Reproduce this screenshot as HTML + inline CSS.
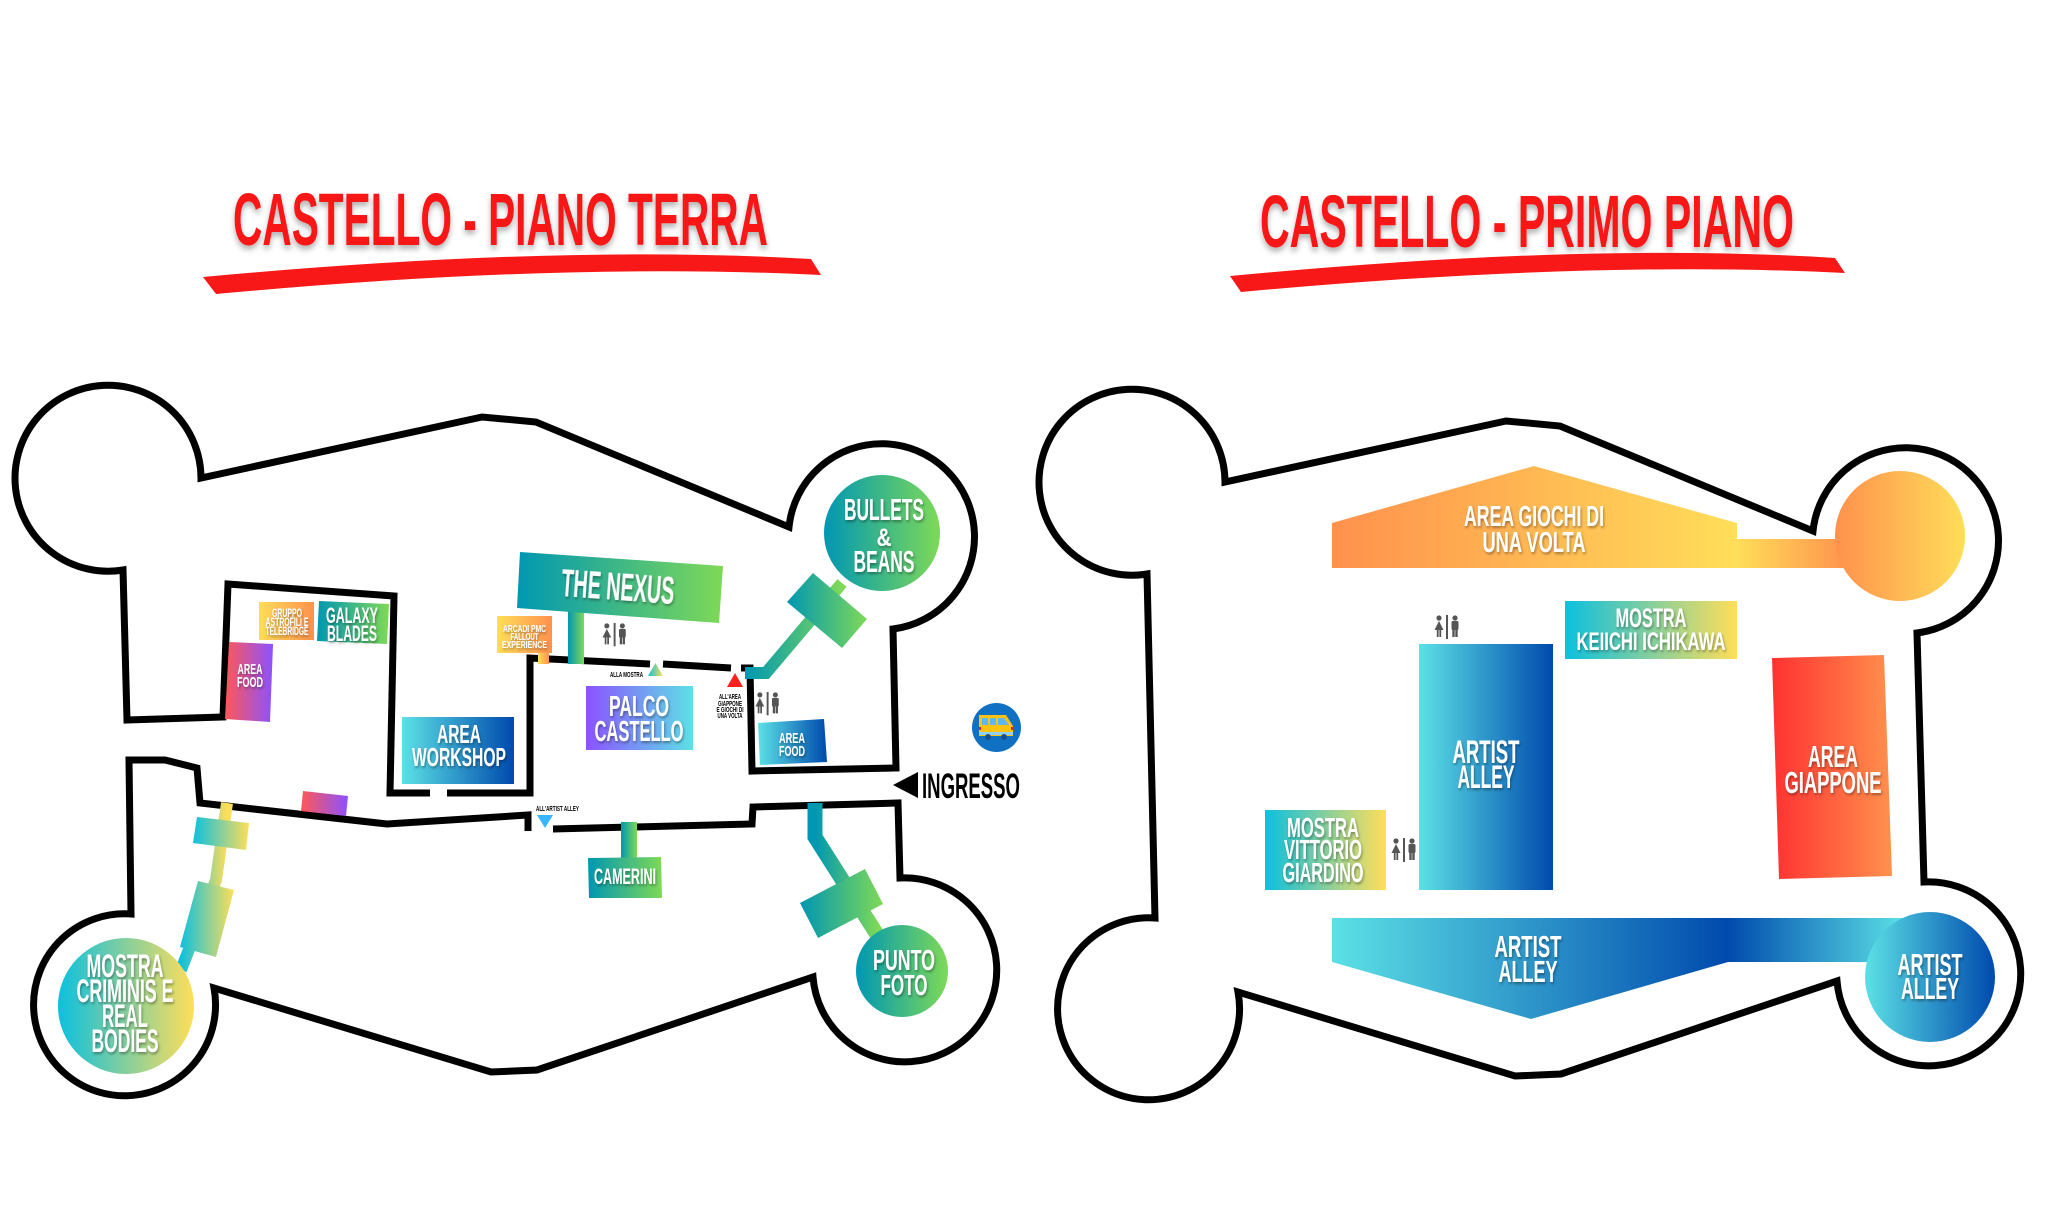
<!DOCTYPE html>
<html>
<head>
<meta charset="utf-8">
<style>
  html,body{margin:0;padding:0;background:#fff;}
  svg{display:block;}
  .w{fill:#fff;font-family:"Liberation Sans Narrow","Liberation Sans","DejaVu Sans Condensed",sans-serif;font-weight:700;filter:url(#ts);}
  .b{fill:#000;font-family:"Liberation Sans Narrow","Liberation Sans","DejaVu Sans Condensed",sans-serif;font-weight:700;}
  .t{fill:#f91818;font-family:"Liberation Sans Narrow","Liberation Sans","DejaVu Sans Condensed",sans-serif;font-weight:700;filter:url(#tsh);}
  .wall{fill:none;stroke:#000;stroke-width:7;stroke-linejoin:miter;stroke-linecap:butt;}
</style>
</head>
<body>
<svg width="2048" height="1230" viewBox="0 0 2048 1230" xmlns="http://www.w3.org/2000/svg">
<defs>
  <filter id="ts" x="-20%" y="-20%" width="140%" height="160%">
    <feDropShadow dx="1" dy="2" stdDeviation="1.2" flood-color="#000" flood-opacity="0.35"/>
  </filter>
  <filter id="tsh" x="-10%" y="-30%" width="120%" height="170%">
    <feDropShadow dx="0" dy="4" stdDeviation="3" flood-color="#000" flood-opacity="0.3"/>
  </filter>
  <linearGradient id="gTG" x1="0" y1="0" x2="1" y2="0"><stop offset="0" stop-color="#0097b2"/><stop offset="1" stop-color="#7ed957"/></linearGradient>
  <linearGradient id="gCB" x1="0" y1="0" x2="1" y2="0"><stop offset="0" stop-color="#5ce1e6"/><stop offset="1" stop-color="#004aad"/></linearGradient>
  <linearGradient id="gPC" x1="0" y1="0" x2="1" y2="0"><stop offset="0" stop-color="#8c52ff"/><stop offset="1" stop-color="#5ce1e6"/></linearGradient>
  <linearGradient id="gPP" x1="0" y1="0" x2="1" y2="0"><stop offset="0" stop-color="#ff5757"/><stop offset="1" stop-color="#8c52ff"/></linearGradient>
  <linearGradient id="gYO" x1="0" y1="0" x2="1" y2="0"><stop offset="0" stop-color="#ffde59"/><stop offset="1" stop-color="#ff914d"/></linearGradient>
  <linearGradient id="gCY" x1="0" y1="0" x2="1" y2="0"><stop offset="0" stop-color="#0cc0df"/><stop offset="1" stop-color="#ffde59"/></linearGradient>
  <linearGradient id="gRO" x1="0" y1="0" x2="1" y2="0"><stop offset="0" stop-color="#ff3131"/><stop offset="1" stop-color="#ff914d"/></linearGradient>
  <linearGradient id="gOY" x1="0" y1="0" x2="1" y2="0"><stop offset="0" stop-color="#ff914d"/><stop offset="1" stop-color="#ffde59"/></linearGradient>
  <linearGradient id="gGiochi" gradientUnits="userSpaceOnUse" x1="1332" y1="0" x2="1850" y2="0">
    <stop offset="0" stop-color="#ff914d"/><stop offset="0.78" stop-color="#ffde59"/><stop offset="1" stop-color="#ff914d"/>
  </linearGradient>
  <linearGradient id="gArtist" gradientUnits="userSpaceOnUse" x1="1332" y1="0" x2="1905" y2="0">
    <stop offset="0" stop-color="#5ce1e6"/><stop offset="0.69" stop-color="#004aad"/><stop offset="1" stop-color="#5ce1e6"/>
  </linearGradient>
  <g id="wc">
    <circle cx="5" cy="3" r="2.6" fill="#555"/>
    <polygon points="5,6 9.5,15 0.5,15" fill="#555"/>
    <rect x="2.8" y="14" width="1.8" height="8" fill="#555"/>
    <rect x="5.4" y="14" width="1.8" height="8" fill="#555"/>
    <rect x="12" y="0" width="2" height="24" fill="#555"/>
    <circle cx="21" cy="3" r="2.6" fill="#555"/>
    <rect x="17.5" y="6" width="7" height="9" rx="1.5" fill="#555"/>
    <rect x="18.3" y="13" width="2.4" height="9" fill="#555"/>
    <rect x="21.3" y="13" width="2.4" height="9" fill="#555"/>
  </g>
</defs>

<rect width="2048" height="1230" fill="#fff"/>

<!-- ================= TITLES ================= -->
<text class="t" x="500.5" y="245" font-size="74" textLength="535" lengthAdjust="spacingAndGlyphs" text-anchor="middle">CASTELLO - PIANO TERRA</text>
<path d="M203,277 Q560,244 811,259 L821,275 Q560,262 216,294 Z" fill="#f91818"/>

<text class="t" x="1527" y="247" font-size="74" textLength="534" lengthAdjust="spacingAndGlyphs" text-anchor="middle">CASTELLO - PRIMO PIANO</text>
<path d="M1230,276 Q1587,242 1835,258 L1845,273 Q1587,260 1241,292 Z" fill="#f91818"/>

<!-- ================= LEFT CASTLE WALLS ================= -->
<path class="wall" d="M430,793 L390,793 L394,596 L228,584 L223,717 L127,720 L123,570 A93,93 0 1 1 201,478 L482,417 L536,422 L789,527 A93,93 0 1 1 893,629 L896,768 L752,771 L750,668 L741,668"/>
<path class="wall" d="M447,793 L530,793 L530,658 L650,664 M663,664 L731,668"/>
<path class="wall" d="M528,831 L528,815 L387,824 L200,803 L197,768 L165,760 L129,760 L131,914 A91,91 0 1 0 214,988 L491,1072 L537,1070 L813,977 A92,92 0 1 0 900,878 L898,803 L753,807 L752,824 L553,829"/>

<!-- ================= LEFT CASTLE CONTENT ================= -->
<!-- Bullets & Beans -->
<path d="M842,583 L766,673 L745,673" fill="none" stroke="url(#gTG)" stroke-width="12" stroke-linejoin="miter"/>
<polygon points="813,573 867,619 842,648 787,602" fill="url(#gTG)"/>
<circle cx="882" cy="533" r="58" fill="url(#gTG)"/>
<text class="w" x="884" y="520" font-size="31" textLength="80" lengthAdjust="spacingAndGlyphs" text-anchor="middle">BULLETS</text>
<text class="w" x="884" y="546" font-size="25" textLength="15" lengthAdjust="spacingAndGlyphs" text-anchor="middle">&amp;</text>
<text class="w" x="884" y="572" font-size="31" textLength="61" lengthAdjust="spacingAndGlyphs" text-anchor="middle">BEANS</text>

<!-- The Nexus -->
<rect x="568" y="606" width="16" height="58" fill="url(#gTG)"/>
<polygon points="520,552 723,566 719,623 517,608" fill="url(#gTG)"/>
<text class="w" x="618" y="600" font-size="39" textLength="113" lengthAdjust="spacingAndGlyphs" text-anchor="middle" transform="rotate(4 618 586)">THE NEXUS</text>

<!-- Arcadi -->
<rect x="538" y="650" width="11" height="14" fill="url(#gYO)"/>
<rect x="497" y="616" width="55" height="37" fill="url(#gYO)"/>
<text class="w" x="524.5" y="632" font-size="10.5" textLength="43" lengthAdjust="spacingAndGlyphs" text-anchor="middle">ARCADI PMC</text>
<text class="w" x="524.5" y="640" font-size="10.5" textLength="28" lengthAdjust="spacingAndGlyphs" text-anchor="middle">FALLOUT</text>
<text class="w" x="524.5" y="648" font-size="10.5" textLength="45" lengthAdjust="spacingAndGlyphs" text-anchor="middle">EXPERIENCE</text>

<!-- Restroom near nexus -->
<use href="#wc" transform="translate(602,623) scale(0.97)"/>

<!-- Gruppo -->
<rect x="259" y="602" width="55" height="38" fill="url(#gYO)"/>
<text class="w" x="287" y="617" font-size="12" textLength="30" lengthAdjust="spacingAndGlyphs" text-anchor="middle">GRUPPO</text>
<text class="w" x="287" y="626" font-size="12" textLength="43" lengthAdjust="spacingAndGlyphs" text-anchor="middle">ASTROFILI E</text>
<text class="w" x="287" y="635" font-size="12" textLength="43" lengthAdjust="spacingAndGlyphs" text-anchor="middle">TELEBRIDGE</text>

<!-- Galaxy Blades -->
<polygon points="319,601 389,604 387,644 317,641" fill="url(#gTG)"/>
<text class="w" x="352" y="623" font-size="22" textLength="52" lengthAdjust="spacingAndGlyphs" text-anchor="middle">GALAXY</text>
<text class="w" x="352" y="641" font-size="22" textLength="50" lengthAdjust="spacingAndGlyphs" text-anchor="middle">BLADES</text>

<!-- Area food left -->
<polygon points="229,642 273,644 270,722 225,719" fill="url(#gPP)"/>
<text class="w" x="250" y="674" font-size="15" textLength="25" lengthAdjust="spacingAndGlyphs" text-anchor="middle">AREA</text>
<text class="w" x="250" y="687" font-size="15" textLength="26" lengthAdjust="spacingAndGlyphs" text-anchor="middle">FOOD</text>

<!-- small pink box -->
<polygon points="303,791 348,796 346,816 301,811" fill="url(#gPP)"/>

<!-- Workshop -->
<rect x="402" y="717" width="112" height="67" fill="url(#gCB)"/>
<text class="w" x="459" y="743" font-size="26" textLength="44" lengthAdjust="spacingAndGlyphs" text-anchor="middle">AREA</text>
<text class="w" x="459" y="766" font-size="26" textLength="94" lengthAdjust="spacingAndGlyphs" text-anchor="middle">WORKSHOP</text>

<!-- Palco -->
<rect x="586" y="686" width="107" height="64" fill="url(#gPC)"/>
<text class="w" x="639" y="716" font-size="29" textLength="60" lengthAdjust="spacingAndGlyphs" text-anchor="middle">PALCO</text>
<text class="w" x="639" y="741" font-size="29" textLength="89" lengthAdjust="spacingAndGlyphs" text-anchor="middle">CASTELLO</text>

<!-- Alla mostra -->
<text class="b" x="626.5" y="677" font-size="7" textLength="33" lengthAdjust="spacingAndGlyphs" text-anchor="middle">ALLA MOSTRA</text>
<polygon points="655.5,663 663,676 648,676" fill="url(#gCY)"/>

<!-- Red triangle + label -->
<polygon points="735,673 743,687 727,687" fill="#ff1f1f"/>
<text class="b" x="730" y="699" font-size="7.5" textLength="22" lengthAdjust="spacingAndGlyphs" text-anchor="middle">ALL'AREA</text>
<text class="b" x="730" y="706" font-size="7.5" textLength="24" lengthAdjust="spacingAndGlyphs" text-anchor="middle">GIAPPONE</text>
<text class="b" x="730" y="712" font-size="7.5" textLength="27" lengthAdjust="spacingAndGlyphs" text-anchor="middle">E GIOCHI DI</text>
<text class="b" x="730" y="718" font-size="7.5" textLength="25" lengthAdjust="spacingAndGlyphs" text-anchor="middle">UNA VOLTA</text>

<!-- Restroom right room -->
<use href="#wc" transform="translate(755,692) scale(0.97)"/>

<!-- Area food right -->
<polygon points="758,723 824,719 827,762 760,765" fill="url(#gCB)"/>
<text class="w" x="792" y="743" font-size="15" textLength="26" lengthAdjust="spacingAndGlyphs" text-anchor="middle">AREA</text>
<text class="w" x="792" y="756" font-size="15" textLength="26" lengthAdjust="spacingAndGlyphs" text-anchor="middle">FOOD</text>

<!-- Bus -->
<circle cx="996.5" cy="727.5" r="24.5" fill="#1070c2"/>
<path d="M979,715 L1006,715 L1013,726 L1013,736 L979,736 Z" fill="#ffc20e"/>
<rect x="982" y="718" width="6" height="7" fill="#5fb7f0"/>
<rect x="990" y="718" width="6" height="7" fill="#5fb7f0"/>
<path d="M998,718 L1004,718 L1009,725 L998,725 Z" fill="#5fb7f0"/>
<rect x="979" y="727" width="2" height="3" fill="#e02020"/>
<rect x="1011" y="727" width="2" height="3" fill="#e02020"/>
<rect x="979" y="732" width="34" height="3" fill="#8fd0f5"/>
<circle cx="988" cy="737" r="3" fill="#1a4f8a"/>
<circle cx="1004" cy="737" r="3" fill="#1a4f8a"/>

<!-- Ingresso -->
<polygon points="893,785 918,772 918,798" fill="#000"/>
<text class="b" x="971" y="798" font-size="35" textLength="98" lengthAdjust="spacingAndGlyphs" text-anchor="middle">INGRESSO</text>

<!-- All'artist alley -->
<text class="b" x="557.5" y="811" font-size="7" textLength="43" lengthAdjust="spacingAndGlyphs" text-anchor="middle">ALL'ARTIST ALLEY</text>
<polygon points="537,815 553,815 545,828" fill="#38b6ff"/>

<!-- Camerini -->
<rect x="621" y="822" width="16" height="37" fill="url(#gTG)"/>
<polygon points="588,858 661,857 662,898 589,898" fill="url(#gTG)"/>
<text class="w" x="625" y="884" font-size="22" textLength="62" lengthAdjust="spacingAndGlyphs" text-anchor="middle">CAMERINI</text>

<!-- Punto foto -->
<path d="M815,803 L815,837 L878,936" fill="none" stroke="url(#gTG)" stroke-width="15" stroke-linejoin="miter"/>
<polygon points="800,903 865,869 883,904 818,938" fill="url(#gTG)"/>
<circle cx="902" cy="971" r="46" fill="url(#gTG)"/>
<text class="w" x="904" y="970" font-size="29" textLength="62" lengthAdjust="spacingAndGlyphs" text-anchor="middle">PUNTO</text>
<text class="w" x="904" y="995" font-size="29" textLength="47" lengthAdjust="spacingAndGlyphs" text-anchor="middle">FOTO</text>

<!-- Mostra criminis -->
<path d="M227,803 L216,880 L181,970" fill="none" stroke="url(#gCY)" stroke-width="12" stroke-linejoin="miter"/>
<polygon points="197,817 249,823 246,850 193,843" fill="url(#gCY)"/>
<polygon points="198,881 234,890 216,957 180,947" fill="url(#gCY)"/>
<circle cx="126" cy="1006" r="68" fill="url(#gCY)"/>
<text class="w" x="125" y="977" font-size="32" textLength="77" lengthAdjust="spacingAndGlyphs" text-anchor="middle">MOSTRA</text>
<text class="w" x="125" y="1002" font-size="32" textLength="97" lengthAdjust="spacingAndGlyphs" text-anchor="middle">CRIMINIS E</text>
<text class="w" x="125" y="1027" font-size="32" textLength="46" lengthAdjust="spacingAndGlyphs" text-anchor="middle">REAL</text>
<text class="w" x="125" y="1052" font-size="32" textLength="67" lengthAdjust="spacingAndGlyphs" text-anchor="middle">BODIES</text>

<!-- ================= RIGHT CASTLE WALLS ================= -->
<path class="wall" transform="translate(1024,4)" d="M123,570 A93,93 0 1 1 201,478 L482,417 L536,422 L789,527 A93,93 0 1 1 893,629 L900,878 A92,92 0 1 1 813,977 L537,1070 L491,1072 L214,988 A91,91 0 1 1 131,914 Z"/>

<!-- ================= RIGHT CASTLE CONTENT ================= -->
<!-- Area giochi -->
<polygon points="1332,523 1534,466 1737,523 1737,539 1850,539 1850,568 1332,568" fill="url(#gGiochi)"/>
<circle cx="1900" cy="536" r="65" fill="url(#gOY)"/>
<text class="w" x="1534" y="526" font-size="29" textLength="140" lengthAdjust="spacingAndGlyphs" text-anchor="middle">AREA GIOCHI DI</text>
<text class="w" x="1534" y="552" font-size="29" textLength="103" lengthAdjust="spacingAndGlyphs" text-anchor="middle">UNA VOLTA</text>

<!-- Restroom top -->
<use href="#wc" transform="translate(1434,615) scale(1)"/>

<!-- Artist alley tall -->
<rect x="1419" y="644" width="134" height="246" fill="url(#gCB)"/>
<text class="w" x="1486" y="763" font-size="32" textLength="67" lengthAdjust="spacingAndGlyphs" text-anchor="middle">ARTIST</text>
<text class="w" x="1486" y="788" font-size="32" textLength="57" lengthAdjust="spacingAndGlyphs" text-anchor="middle">ALLEY</text>

<!-- Mostra Keiichi -->
<rect x="1565" y="601" width="172" height="58" fill="url(#gCY)"/>
<text class="w" x="1651" y="627" font-size="27" textLength="71" lengthAdjust="spacingAndGlyphs" text-anchor="middle">MOSTRA</text>
<text class="w" x="1651" y="650" font-size="25" textLength="149" lengthAdjust="spacingAndGlyphs" text-anchor="middle">KEIICHI ICHIKAWA</text>

<!-- Area Giappone -->
<polygon points="1772,658 1884,655 1892,876 1779,879" fill="url(#gRO)"/>
<text class="w" x="1833" y="767" font-size="31" textLength="50" lengthAdjust="spacingAndGlyphs" text-anchor="middle">AREA</text>
<text class="w" x="1833" y="793" font-size="31" textLength="97" lengthAdjust="spacingAndGlyphs" text-anchor="middle">GIAPPONE</text>

<!-- Mostra Vittorio -->
<rect x="1265" y="810" width="121" height="80" fill="url(#gCY)"/>
<text class="w" x="1323" y="837" font-size="28" textLength="72" lengthAdjust="spacingAndGlyphs" text-anchor="middle">MOSTRA</text>
<text class="w" x="1323" y="859" font-size="28" textLength="78" lengthAdjust="spacingAndGlyphs" text-anchor="middle">VITTORIO</text>
<text class="w" x="1323" y="882" font-size="28" textLength="81" lengthAdjust="spacingAndGlyphs" text-anchor="middle">GIARDINO</text>

<!-- Restroom bottom -->
<use href="#wc" transform="translate(1391,838) scale(1)"/>

<!-- Artist alley bottom -->
<polygon points="1332,918 1905,918 1905,962 1728,962 1531,1019 1332,962" fill="url(#gArtist)"/>
<circle cx="1930" cy="977" r="65" fill="url(#gCB)"/>
<text class="w" x="1528" y="957" font-size="31" textLength="67" lengthAdjust="spacingAndGlyphs" text-anchor="middle">ARTIST</text>
<text class="w" x="1528" y="982" font-size="31" textLength="59" lengthAdjust="spacingAndGlyphs" text-anchor="middle">ALLEY</text>
<text class="w" x="1930" y="975" font-size="31" textLength="65" lengthAdjust="spacingAndGlyphs" text-anchor="middle">ARTIST</text>
<text class="w" x="1930" y="999" font-size="31" textLength="58" lengthAdjust="spacingAndGlyphs" text-anchor="middle">ALLEY</text>

</svg>
</body>
</html>
